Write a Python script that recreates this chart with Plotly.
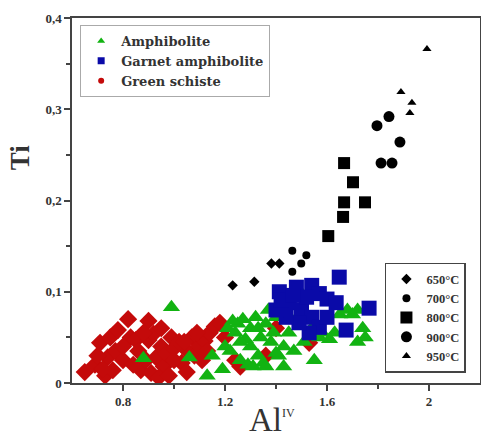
import plotly.graph_objects as go

# ---------------- data ----------------
schiste_x = [0.65, 0.69, 0.71, 0.73, 0.74, 0.75, 0.77, 0.78, 0.76, 0.82, 0.83, 0.85, 0.87, 0.90, 0.90,
             0.89, 0.92, 0.93, 0.91, 0.95, 0.96, 0.94, 0.97, 0.99, 1.00, 1.03, 1.05, 1.07, 1.08, 1.10,
             1.12, 1.14, 1.16, 1.18, 1.11, 1.05, 0.98, 1.24, 1.26, 1.36, 1.40, 1.53, 0.80, 0.86, 1.02, 1.20,
             0.70, 0.80, 0.84, 0.88, 0.95, 1.00, 1.04, 1.09, 1.13, 0.72]
schiste_y = [0.012, 0.020, 0.044, 0.008, 0.028, 0.050, 0.035, 0.058, 0.014, 0.070, 0.050, 0.047, 0.014, 0.068, 0.047,
             0.025, 0.054, 0.028, 0.011, 0.040, 0.018, 0.006, 0.032, 0.050, 0.038, 0.022, 0.036, 0.050, 0.030, 0.040,
             0.046, 0.055, 0.062, 0.066, 0.025, 0.012, 0.008, 0.025, 0.018, 0.030, 0.060, 0.044, 0.025, 0.035, 0.045, 0.050,
             0.030, 0.040, 0.020, 0.055, 0.060, 0.025, 0.045, 0.055, 0.035, 0.015]

amph_x = [0.99, 0.88, 1.06, 1.13, 1.15, 1.22, 1.24, 1.25, 1.27, 1.28, 1.30, 1.30, 1.32, 1.33, 1.34, 1.35,
          1.36, 1.38, 1.40, 1.41, 1.43, 1.45, 1.47, 1.50, 1.51, 1.54, 1.58, 1.61, 1.63, 1.65, 1.68, 1.70,
          1.72, 1.74, 1.75, 1.72, 1.26, 1.29, 1.20, 1.23, 1.37, 1.43, 1.55, 1.19, 1.31, 1.36, 1.40, 1.57,
          1.26, 1.33, 1.39, 1.46, 1.21]
amph_y = [0.083, 0.027, 0.028, 0.008, 0.030, 0.035, 0.055, 0.065, 0.070, 0.048, 0.040, 0.060, 0.072, 0.030, 0.050, 0.022,
          0.065, 0.045, 0.072, 0.030, 0.040, 0.055, 0.035, 0.098, 0.045, 0.060, 0.055, 0.048, 0.055, 0.075, 0.080, 0.075,
          0.080, 0.060, 0.050, 0.045, 0.025, 0.020, 0.040, 0.068, 0.080, 0.018, 0.025, 0.015, 0.018, 0.018, 0.033, 0.050,
          0.045, 0.060, 0.055, 0.070, 0.060]

garnet_x = [1.413, 1.48, 1.54, 1.57, 1.60, 1.636, 1.452, 1.50, 1.54, 1.57, 1.53, 1.49, 1.44, 1.40, 1.52,
            1.60, 1.42, 1.465, 1.648, 1.765, 1.675]
garnet_y = [0.100, 0.105, 0.107, 0.098, 0.092, 0.088, 0.088, 0.080, 0.072, 0.061, 0.055, 0.066, 0.072, 0.080, 0.094,
            0.072, 0.091, 0.096, 0.116, 0.082, 0.058]

t650_x = [1.23, 1.315, 1.382, 1.413]
t650_y = [0.107, 0.111, 0.131, 0.131]
t700_x = [1.464, 1.464, 1.499, 1.519]
t700_y = [0.145, 0.122, 0.131, 0.140]
t800_x = [1.667, 1.702, 1.667, 1.749, 1.663, 1.605]
t800_y = [0.241, 0.220, 0.198, 0.198, 0.182, 0.161]
t900_x = [1.796, 1.843, 1.886, 1.812, 1.855]
t900_y = [0.282, 0.292, 0.264, 0.241, 0.241]
t950_x = [1.992, 1.890, 1.933, 1.925]
t950_y = [0.366, 0.319, 0.307, 0.296]

y_tickvals = [0, 0.1, 0.2, 0.3, 0.4]
y_ticktext = ["0", "0,1", "0,2", "0,3", "0,4"]
x_tickvals = [0.8, 1.2, 1.6, 2.0]
x_ticktext = ["0.8", "1.2", "1.6", "2"]

GREEN = "#12b312"
BLUE = "#0a0aa8"
RED = "#c40a0a"
SERIF = "Liberation Serif, Times New Roman, serif"
WIDE_SERIF = "DejaVu Serif, Liberation Serif, serif"

fig = go.Figure()

# main data traces (no legend)
fig.add_trace(go.Scatter(x=schiste_x, y=schiste_y, mode="markers", showlegend=False,
                         marker=dict(symbol="diamond", size=14, color=RED)))
fig.add_trace(go.Scatter(x=amph_x, y=amph_y, mode="markers", showlegend=False,
                         marker=dict(symbol="triangle-up", size=15, color=GREEN)))
fig.add_trace(go.Scatter(x=garnet_x, y=garnet_y, mode="markers", showlegend=False,
                         marker=dict(symbol="square", size=15, color=BLUE)))

# legend 1 entries
fig.add_trace(go.Scatter(x=[None], y=[None], mode="markers", name="Amphibolite", legend="legend",
                         marker=dict(symbol="triangle-up", size=7, color=GREEN)))
fig.add_trace(go.Scatter(x=[None], y=[None], mode="markers", name="Garnet amphibolite", legend="legend",
                         marker=dict(symbol="square", size=7, color=BLUE)))
fig.add_trace(go.Scatter(x=[None], y=[None], mode="markers", name="Green schiste", legend="legend",
                         marker=dict(symbol="circle", size=6, color=RED)))

# temperature traces (legend 2)
fig.add_trace(go.Scatter(x=t650_x, y=t650_y, mode="markers", name="650°C", legend="legend2",
                         marker=dict(symbol="diamond", size=8, color="black")))
fig.add_trace(go.Scatter(x=t700_x, y=t700_y, mode="markers", name="700°C", legend="legend2",
                         marker=dict(symbol="circle", size=8, color="black")))
fig.add_trace(go.Scatter(x=t800_x, y=t800_y, mode="markers", name="800°C", legend="legend2",
                         marker=dict(symbol="square", size=12, color="black")))
fig.add_trace(go.Scatter(x=t900_x, y=t900_y, mode="markers", name="900°C", legend="legend2",
                         marker=dict(symbol="circle", size=11, color="black")))
fig.add_trace(go.Scatter(x=t950_x, y=t950_y, mode="markers", name="950°C", legend="legend2",
                         marker=dict(symbol="triangle-up", size=8, color="black")))

axis_common = dict(showline=True, linecolor="#444", linewidth=1.5, mirror=True, showgrid=False,
                   zeroline=False, ticks="outside", ticklen=6, tickcolor="#444", tickwidth=1.5,
                   automargin=False,
                   tickfont=dict(family=SERIF, size=13, color="#333", weight="bold"))

fig.update_xaxes(range=[0.6, 2.2], tickvals=x_tickvals, ticktext=x_ticktext,
                 minor=dict(tickvals=[1.0, 1.4, 1.8], ticks="outside", ticklen=4, tickcolor="#444"),
                 **axis_common)
fig.update_yaxes(range=[0, 0.4], tickvals=y_tickvals, ticktext=y_ticktext,
                 minor=dict(tickvals=[0.05, 0.15, 0.25, 0.35], ticks="outside", ticklen=4, tickcolor="#444"),
                 **axis_common)

fig.update_layout(
    width=481, height=439,
    margin=dict(l=72, r=1, t=18, b=56, autoexpand=False),
    plot_bgcolor="white", paper_bgcolor="white",
    annotations=[
        dict(text="<b>Ti</b>", xref="paper", yref="paper", x=-0.127, y=0.619, textangle=-90,
             showarrow=False, xanchor="center", yanchor="middle",
             font=dict(family=SERIF, size=27, color="#333")),
        dict(text="Al<sup><span style='font-size:12px'>IV</span></sup>", xref="paper", yref="paper",
             x=0.49, y=-0.1, showarrow=False, xanchor="center", yanchor="middle",
             font=dict(family=SERIF, size=33, color="#333")),
    ],
    legend=dict(x=0.02, y=0.981, xanchor="left", yanchor="top", bgcolor="white",
                bordercolor="#aaa", borderwidth=1,
                font=dict(family=WIDE_SERIF, size=13, color="#333", weight="bold"),
                tracegroupgap=0, itemwidth=30),
    legend2=dict(x=0.767, y=0.329, xanchor="left", yanchor="top", bgcolor="white",
                 bordercolor="#444", borderwidth=1.5,
                 font=dict(family=SERIF, size=12.5, color="#333", weight="bold"),
                 tracegroupgap=0, itemwidth=30),
)

fig.write_html("out.html", config={"displayModeBar": False},
               post_script="document.body.style.margin='0';")
